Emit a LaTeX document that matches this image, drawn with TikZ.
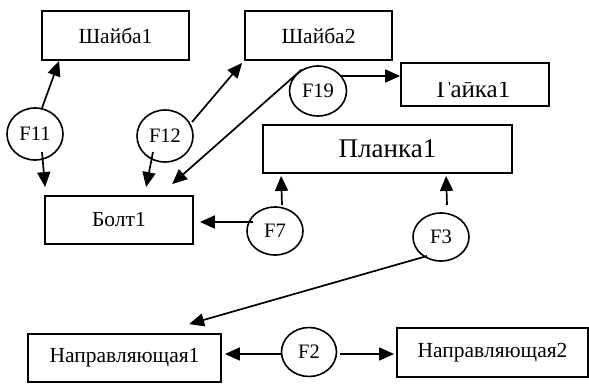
\documentclass[tikz,border=0pt]{standalone}
\usepackage{fontspec}
\setmainfont{Liberation Serif}
\usetikzlibrary{shapes.geometric,arrows.meta,calc}
\begin{document}
\begin{tikzpicture}[x=1pt,y=-1pt,
  box/.style={draw,line width=1.8pt,rectangle,inner sep=0pt,font=\fontsize{21.5}{25}\selectfont},
  ell/.style={draw,line width=1.6pt,ellipse,inner sep=0pt,font=\fontsize{20.5}{24}\selectfont},
  arr/.style={line width=1.7pt,-{Triangle[length=15pt,width=13pt]}}]
\useasboundingbox (0,0) rectangle (589,383);
% boxes
\node[box,minimum width=147pt,minimum height=49pt] (s1) at (115.5,35.5) {Шайба1};
\node[box,minimum width=147pt,minimum height=49pt] (s2) at (318.5,35.5) {Шайба2};
\node[box,minimum width=148pt,minimum height=43pt] (g1) at (475,84.5) {};
\begin{scope}
\clip (401,82.5) rectangle (549,106);
\node[font=\fontsize{25}{29}\selectfont,anchor=base,inner sep=0pt] (g1t) at (473.5,97.5) {Гайка1};
\end{scope}
\node[box,minimum width=249pt,minimum height=48pt,font=\fontsize{27}{31}\selectfont] (p1) at (387.5,149) {Планка1};
\node[box,minimum width=148pt,minimum height=48pt] (b1) at (119,220) {Болт1};
\node[box,minimum width=193pt,minimum height=48pt] (n1) at (124.5,358) {Направляющая1};
\node[box,minimum width=191pt,minimum height=49pt] (n2) at (492.5,352.5) {Направляющая2};
% ellipses
\node[ell,minimum width=56pt,minimum height=52pt] (f11) at (35,134) {F11};
\node[ell,minimum width=56pt,minimum height=52pt] (f12) at (165,136) {F12};
\node[ell,minimum width=57pt,minimum height=50pt] (f19) at (318,91) {F19};
\node[ell,minimum width=56pt,minimum height=48pt] (f7) at (275,231) {F7};
\node[ell,minimum width=56pt,minimum height=48pt] (f3) at (441,237) {F3};
\node[ell,minimum width=55pt,minimum height=49pt] (f2) at (309,352) {F2};
% connectors
\draw[arr] ($(f11)+(7,-26)$) -- ($(s1.south west)+(18,0)$);
\draw[arr] ($(f11)+(7,18)$) -- ($(b1.north west)+(1,-8)$);
\draw[arr] ($(f12)+(27,-14)$) -- ($(s2.south west)+(-2,2)$);
\draw[arr] ($(f12)+(-12,16)$) -- ($(b1.north west)+(102,-8)$);
\draw[arr] (f19.127) -- ($(b1.north west)+(128,-11)$);
\draw[arr] ($(f19)+(22,-15)$) -- ($(g1.west)+(0,-8.5)$);
\draw[arr] ($(f7)+(-22,-9)$) -- ($(b1.east)+(6,2)$);
\draw[arr] ($(f7)+(7,-26)$) -- ($(p1.south west)+(19,2)$);
\draw[arr] ($(f3)+(6,-32)$) -- ($(p1.south west)+(184,2)$);
\draw[arr] ($(f3)+(-14,19)$) -- ($(n1.north west)+(162,-9)$);
\draw[arr] ($(f2)+(-27,2)$) -- ($(n1.east)+(3,-4)$);
\draw[arr] ($(f2)+(31,2)$) -- ($(n2.west)+(-2,1.5)$);
\end{tikzpicture}
\end{document}
